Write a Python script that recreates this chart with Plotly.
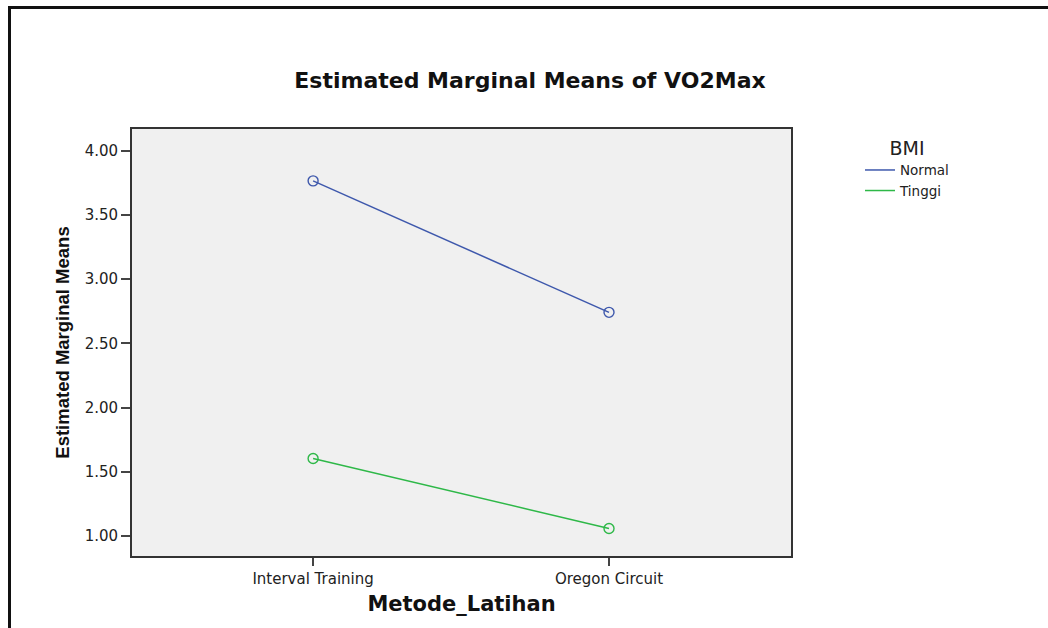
import plotly.graph_objects as go

categories = ["Interval Training", "Oregon Circuit"]
normal_means = [3.766, 2.742]
tinggi_means = [1.604, 1.058]
series_names = ["Normal", "Tinggi"]
series_colors = ["#3E58AC", "#2EB848"]
y_ticks = [1.0, 1.5, 2.0, 2.5, 3.0, 3.5, 4.0]

FONT = "DejaVu Sans, Verdana, sans-serif"

fig = go.Figure()
for name, vals, col in zip(series_names, [normal_means, tinggi_means], series_colors):
    fig.add_trace(go.Scatter(
        x=categories, y=vals, name=name, mode="lines+markers", legendgroup=name, showlegend=False,
        line=dict(color=col, width=1.5),
        marker=dict(symbol="circle-open", size=10, color=col, line=dict(width=1.4, color=col)),
    ))
    # legend entry shows only the line, as in the reference
    fig.add_trace(go.Scatter(
        x=[None], y=[None], name=name, mode="lines", legendgroup=name, showlegend=True,
        line=dict(color=col, width=1.5),
    ))

L, R, T, B = 132, 257, 129, 72
W, H = 1048, 628
pw, ph = W - L - R, H - T - B

def px(x):
    return (x - L) / pw

def py(y):
    return (H - B - y) / ph

fig.update_layout(
    width=W, height=H,
    margin=dict(l=L, r=R, t=T, b=B, autoexpand=False),
    paper_bgcolor="white",
    plot_bgcolor="#F0F0F0",
    font=dict(family=FONT, color="#222", size=13),
    title=dict(text="<b>Estimated Marginal Means of VO2Max</b>", xref="container", x=530 / W, xanchor="center",
               yref="container", y=1 - 80 / H, yanchor="middle",
               font=dict(size=22, color="#111", family=FONT)),
    showlegend=True,
    legend=dict(
        x=px(860), y=py(130), xanchor="left", yanchor="top",
        title=dict(text="BMI", side="top center", font=dict(size=19, color="#222", family=FONT)),
        font=dict(size=13.5, color="#222", family=FONT),
        bgcolor="rgba(0,0,0,0)", tracegroupgap=0, itemwidth=30,
    ),
    xaxis=dict(
        type="category", range=[-0.612, 1.615],
        showgrid=False, zeroline=False,
        showline=True, linecolor="#333", linewidth=1.8, mirror=True,
        ticks="outside", ticklen=8, tickwidth=2, tickcolor="#444",
        tickfont=dict(size=15, color="#222", family=FONT),
        title=dict(text="<b>Metode_Latihan</b>", font=dict(size=21, color="#111", family=FONT), standoff=9),
    ),
    yaxis=dict(
        range=[0.844, 4.17], tickvals=y_ticks, tickformat=".2f",
        showgrid=False, zeroline=False,
        showline=True, linecolor="#333", linewidth=1.8, mirror=True,
        ticks="outside", ticklen=9, tickwidth=2, tickcolor="#444",
        tickfont=dict(size=15, color="#222", family=FONT),
        title=dict(text="<b>Estimated Marginal Means</b>",
                   font=dict(size=18.5, color="#111", family="Liberation Sans Narrow, Liberation Sans, Arial, sans-serif"),
                   standoff=10),
    ),
)

# outer frame (partially cropped in the reference)
fig.add_shape(type="line", xref="paper", yref="paper", x0=px(8), x1=px(1060), y0=py(7.5), y1=py(7.5),
              line=dict(color="#111", width=3))
fig.add_shape(type="line", xref="paper", yref="paper", x0=px(9.5), x1=px(9.5), y0=py(6), y1=py(640),
              line=dict(color="#111", width=3))

fig.write_html("out.html", config={"displayModeBar": False},
               post_script="document.body.style.margin='0';")
